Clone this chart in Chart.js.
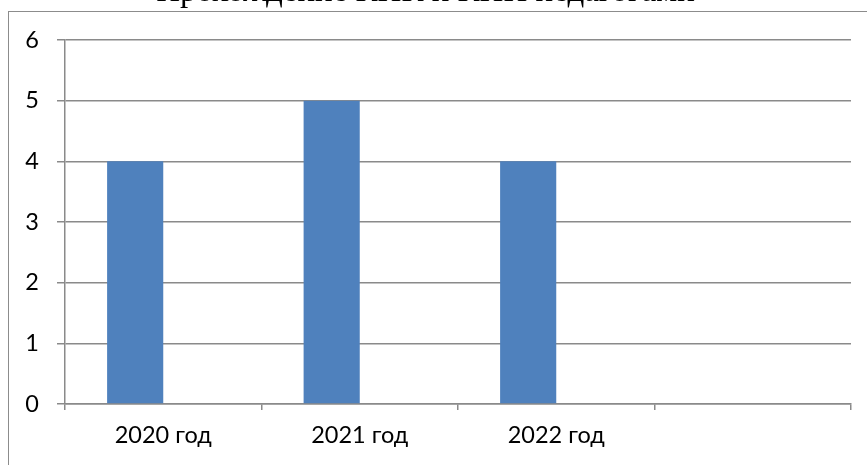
<!DOCTYPE html>
<html>
<head>
<meta charset="utf-8">
<script src="https://cdn.jsdelivr.net/npm/chart.js@4"></script>
<style>
  html, body { margin: 0; padding: 0; width: 867px; height: 465px; overflow: hidden; background: #fff; }
  #frame { position: absolute; left: 8px; top: 11px; width: 900px; height: 500px; border-left: 1.5px solid #8c8c8c; border-top: 1.5px solid #8c8c8c; }
  #wrap { position: absolute; left: 0; top: -27px; width: 890px; height: 492px; }
</style>
</head>
<body>
<div id="frame"></div>
<div id="wrap"><canvas id="c" width="890" height="492"></canvas></div>
<script>
const titleText = "Прохождение КПК и КПП педагогами";
const categories = ["2020 год", "2021 год", "2022 год", ""];
const series1 = [4, 5, 4, null];
const series2 = [null, null, null, null];
const yTicks = [0, 1, 2, 3, 4, 5, 6];

const gridColor = '#8a8a8a';
const tickFont = { family: 'Lato, "Open Sans", sans-serif', size: 23.5 };

new Chart(document.getElementById('c'), {
  type: 'bar',
  data: {
    labels: categories,
    datasets: [
      { label: 'Ряд 1', data: series1, backgroundColor: '#4F81BD', borderWidth: 0, categoryPercentage: 2/3.5, barPercentage: 1 },
      { label: 'Ряд 2', data: series2, backgroundColor: '#C0504D', borderWidth: 0, categoryPercentage: 2/3.5, barPercentage: 1 }
    ]
  },
  options: {
    responsive: false,
    animation: false,
    devicePixelRatio: 1,
    layout: { padding: { left: 0, right: 39, top: 0, bottom: 0 } },
    plugins: {
      legend: { display: false },
      tooltip: { enabled: false },
      title: {
        display: true,
        text: titleText,
        color: '#000',
        font: { family: '"Liberation Serif", "Times New Roman", serif', size: 33, weight: 'normal', lineHeight: 1.2 },
        padding: { top: 0, bottom: 27.4 }
      }
    },
    scales: {
      x: {
        offset: true,
        grid: { offset: true, drawOnChartArea: false, drawTicks: true, tickLength: 6, color: gridColor, lineWidth: 1.5 },
        border: { display: true, color: gridColor, width: 1.5 },
        ticks: { color: '#000', font: tickFont, padding: 11, maxRotation: 0 },
        afterFit: (s) => { s.height = 61; }
      },
      y: {
        min: 0, max: 6,
        afterBuildTicks: (s) => { s.ticks = yTicks.map(v => ({ value: v })); },
        grid: { drawOnChartArea: true, drawTicks: true, tickLength: 8, color: gridColor, lineWidth: 1.5 },
        border: { display: true, color: gridColor, width: 1.5 },
        ticks: { color: '#000', font: tickFont, padding: 18 },
        afterFit: (s) => { s.width = 65; }
      }
    }
  }
});
</script>
</body>
</html>
